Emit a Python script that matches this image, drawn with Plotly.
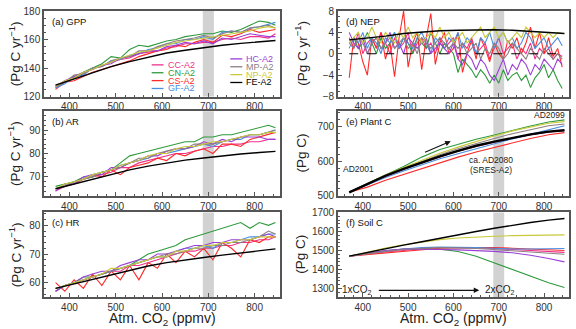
import plotly.graph_objects as go

# ---------------- data ----------------
MODELS = ["CC-A2", "CN-A2", "CS-A2", "GF-A2", "HC-A2", "MP-A2", "NP-A2", "FE-A2"]
COLORS = ["#f0308a", "#2e9a3c", "#ff2a2a", "#4a8ee0", "#9b3fd6", "#8c7f80", "#c9c93a", "#000000"]

CO2_A = [370, 390, 410, 430, 450, 470, 490, 510, 530, 550, 570, 590, 610, 630, 650,
         670, 690, 710, 730, 750, 770, 790, 810, 830, 845]
CO2_S = [370, 410, 450, 490, 530, 570, 610, 650, 690, 730, 770, 810, 845]
CO2_N = [370, 380, 390, 400, 410, 420, 430, 440, 450, 460, 470, 480, 490, 500, 510, 520,
         530, 540, 550, 560, 570, 580, 590, 600, 610, 620, 630, 640, 650, 660, 670, 680,
         690, 700, 710, 720, 730, 740, 750, 760, 770, 780, 790, 800, 810, 820, 830, 840]

# (a) GPP
GPP = {
    "CC-A2": [126, 131, 133, 136, 140, 141, 144, 146, 147, 150, 151, 152, 154, 155, 157, 157, 158, 158, 160, 161, 160, 162, 162, 161, 164],
    "CN-A2": [127, 130, 133, 137, 140, 143, 148, 147, 153, 156, 155, 157, 159, 160, 162, 163, 164, 164, 166, 165, 167, 170, 173, 172, 170],
    "CS-A2": [125, 130, 131, 134, 137, 139, 141, 143, 145, 148, 150, 152, 153, 156, 155, 158, 160, 158, 163, 162, 164, 167, 165, 166, 167],
    "GF-A2": [126, 129, 134, 135, 140, 141, 145, 146, 149, 150, 153, 154, 157, 157, 160, 160, 162, 160, 165, 166, 165, 168, 169, 171, 172],
    "HC-A2": [127, 131, 134, 137, 139, 142, 143, 147, 148, 150, 152, 152, 155, 156, 158, 157, 159, 157, 161, 160, 162, 164, 163, 162, 162],
    "MP-A2": [128, 130, 135, 136, 140, 141, 145, 147, 148, 152, 152, 155, 157, 159, 160, 161, 163, 161, 164, 166, 165, 168, 169, 170, 168],
    "NP-A2": [127, 131, 133, 137, 139, 142, 144, 147, 149, 151, 152, 154, 156, 158, 159, 160, 161, 162, 163, 164, 165, 166, 168, 169, 168],
}
GPP_FE = [128, 132.5, 137, 141, 144.5, 147.5, 150.5, 152.5, 154.5, 156, 157.3, 158.5, 159.3]

# (b) AR
AR = {
    "CC-A2": [64, 66, 68, 69, 70, 71, 72, 74, 74, 76, 77, 78, 79, 80, 80, 81, 82, 83, 83, 84, 84, 85, 85, 86, 86],
    "CN-A2": [66, 67, 68, 70, 70, 72, 73, 76, 79, 80, 81, 82, 83, 84, 85, 85, 87, 87, 88, 88, 89, 90, 91, 92, 91],
    "CS-A2": [65, 66, 67, 69, 71, 70, 73, 71, 74, 75, 76, 78, 77, 80, 79, 81, 82, 80, 84, 84, 83, 86, 87, 88, 89],
    "GF-A2": [65, 66, 68, 69, 71, 72, 73, 75, 76, 77, 78, 80, 80, 81, 82, 83, 84, 83, 85, 86, 86, 88, 88, 89, 90],
    "HC-A2": [64, 67, 67, 70, 71, 71, 74, 74, 76, 77, 79, 79, 81, 82, 82, 83, 85, 84, 86, 85, 87, 87, 87, 86, 86],
    "MP-A2": [65, 66, 68, 69, 70, 72, 73, 74, 76, 78, 78, 80, 81, 82, 82, 84, 84, 84, 85, 86, 87, 88, 88, 89, 90],
    "NP-A2": [65, 67, 68, 69, 71, 72, 73, 75, 76, 77, 79, 80, 80, 82, 83, 83, 84, 85, 85, 86, 87, 88, 88, 89, 89],
}
AR_FE = [65, 67, 69.3, 71.3, 73, 74.6, 76, 77.2, 78.1, 79, 79.8, 80.4, 80.9]

# (c) HR
HR = {
    "CC-A2": [57, 59, 60, 61, 62, 63, 64, 64, 66, 66, 67, 68, 69, 70, 71, 71, 72, 72, 73, 73, 74, 74, 75, 75, 76],
    "CN-A2": [57, 59, 60, 62, 62, 63, 64, 65, 66, 68, 70, 71, 72, 73, 75, 76, 77, 78, 79, 80, 81, 79, 81, 80, 81],
    "CS-A2": [60, 57, 61, 58, 63, 59, 64, 61, 66, 61, 67, 65, 70, 67, 71, 69, 72, 68, 74, 72, 69, 75, 74, 76, 76],
    "GF-A2": [58, 59, 60, 61, 62, 63, 64, 65, 66, 67, 68, 69, 69, 71, 72, 72, 73, 72, 74, 74, 75, 76, 76, 77, 77],
    "HC-A2": [57, 59, 60, 62, 63, 64, 64, 66, 67, 68, 68, 70, 70, 71, 72, 73, 73, 74, 74, 75, 75, 75, 76, 77, 76],
    "MP-A2": [58, 59, 60, 61, 62, 63, 64, 65, 66, 67, 68, 69, 70, 70, 71, 72, 72, 73, 73, 74, 74, 75, 76, 78, 77],
    "NP-A2": [58, 59, 60, 61, 62, 63, 65, 65, 66, 67, 68, 69, 69, 71, 71, 72, 73, 73, 74, 74, 75, 75, 76, 76, 76],
}
HR_FE = [58, 59.6, 61.2, 62.8, 64.4, 65.8, 67, 68, 68.8, 69.6, 70.4, 71.2, 71.8]

# (d) NEP
NEP = {
    "CC-A2": [3, 1, 4, 0, 2, 3, 1, 4, 2, 0, 3, 1, 2, 4, 0, 2, 3, 1, 2, 0, 3, 1, 2, 3,
              -1, 2, 1, 3, 0, 1, 2, -1, 1, 3, 0, 1, 2, -1, 1, 0, 2, -1, 1, 0, 1, -1, 0, -0.5],
    "CN-A2": [2, 3, 1, 2, 4, 2, 0, 3, 1, 2, 4, 1, 3, 2, 0, 3, 2, 1, 4, 2, 0, 2, 1, 0,
              -3.5, -1, -2, -3, -4.5, -3, -4, -5.5, -4, -5.5, -3, -5, -4, -3.5, -5, -4, -6.3, -4.5, -3.5, -2, -4.5, -3, -5, -6.5],
    "CS-A2": [-4.5, 3, 2, -1.5, -4, 3, 1, 4, -1, 2, -4.3, 3, 8, -2.5, 2, 4, -3, 3, 7.5, -2, 2, 4, 0, 1,
              4, -3.5, 0, 2.5, -1, 3, 1, -1.5, 2, 0, -1, 2.5, 1, 3, 0, 2, 5, 1, 4, 0, 3, -0.5, 1, -2.5],
    "GF-A2": [1, 3, 2, 4, 1, 3, 2, 0, 3, 2, 4, 1, 3, 2, 1, 3, 4, 2, 0, 3, 2, 1, 3, 2,
              4, 1, 3, 2, 0, 3, 2, 4, 1, 3, 4, 2, 3, 1, 2, 4, 3, 1, 2, 3, 1, 2, 3, 1.5],
    "HC-A2": [4, 2, 1, 3, 0, 2, 3, 1, 2, 4, 1, 2, 0, 3, 2, 1, 2, 3, 0, 1, 2, 1, 0, 2,
              -1, -2, 0, -1, -3, -1, -2, -4, -5, -3, -1, -4, -2, -3, -1, -2, -4, -2, -3, -1, -2, -3, -1, -2],
    "MP-A2": [2, 1, 3, 2, 0, 2, 3, 1, 2, 3, 1, 2, 3, 1, 2, 0, 3, 2, 1, 2, 3, 2, 1, 2,
              1, 2, 0, 1, 2, -1, 1, 0, 2, 1, -1, 0, 2, 1, 0, -1, 1, 0, -1, 1, 0, -1, 0, -1],
    "NP-A2": [2, 3, 4, 2, 3, 5, 3, 2, 4, 3, 2, 4, 3, 5, 3, 4, 2, 3, 4, 3, 5, 3, 4, 2,
              3, 4, 2, 3, 4, 5, 3, 4, 5, 3, 4, 2, 3, 4, 3, 5, 4, 3, 4, 3, 4, 3, 4, 3.8],
}
NEP_FE = [2.6, 2.9, 3.3, 3.8, 4.1, 4.3, 4.4, 4.5, 4.5, 4.4, 4.2, 4.0, 3.8]

# (e) Plant C
PLANT = {
    "CC-A2": [510, 533, 556, 577, 596, 613, 629, 643, 656, 667, 677, 685, 689],
    "CN-A2": [510, 536, 560, 585, 612, 634, 650, 664, 676, 690, 702, 714, 720],
    "CS-A2": [510, 525, 545, 562, 580, 596, 612, 627, 640, 654, 666, 677, 683],
    "GF-A2": [510, 532, 553, 572, 590, 607, 622, 637, 651, 665, 678, 692, 703],
    "HC-A2": [510, 534, 557, 578, 597, 614, 630, 645, 657, 668, 677, 685, 689],
    "MP-A2": [510, 535, 560, 580, 600, 619, 636, 652, 666, 680, 692, 703, 708],
    "NP-A2": [510, 536, 560, 582, 603, 623, 641, 658, 673, 688, 700, 710, 715],
}
PLANT_FE = [510, 535, 558, 578, 597, 614, 630, 645, 657, 668, 678, 686, 690]

# (f) Soil C
SOIL = {
    "CC-A2": [1470, 1482, 1492, 1500, 1510, 1515, 1516, 1514, 1510, 1504, 1498, 1493, 1490],
    "CN-A2": [1470, 1485, 1498, 1507, 1510, 1507, 1495, 1470, 1435, 1400, 1365, 1330, 1305],
    "CS-A2": [1470, 1478, 1487, 1495, 1505, 1512, 1515, 1516, 1515, 1512, 1508, 1503, 1500],
    "GF-A2": [1470, 1484, 1497, 1508, 1515, 1518, 1518, 1516, 1512, 1508, 1508, 1510, 1510],
    "HC-A2": [1470, 1487, 1500, 1508, 1508, 1505, 1503, 1500, 1495, 1488, 1475, 1458, 1440],
    "MP-A2": [1470, 1483, 1495, 1505, 1512, 1515, 1513, 1510, 1505, 1498, 1490, 1484, 1480],
    "NP-A2": [1470, 1492, 1513, 1530, 1545, 1557, 1566, 1572, 1575, 1578, 1580, 1581, 1582],
}
SOIL_FE = [1470, 1490, 1510, 1528, 1546, 1565, 1583, 1600, 1617, 1633, 1647, 1660, 1668]

BAND = [688, 712]          # ca. AD2080 shading
X_RANGE = [345, 855]
X_TICKS = [400, 500, 600, 700, 800]

FONT = "Liberation Sans, Arial, sans-serif"

# panel definitions: (suffix, grid, data, FE, yrange, tickvals, minor dtick, label, ytitle)
PANELS = [
    ("",  CO2_A, GPP,   GPP_FE,   [120, 180],   [120, 140, 160, 180], 5,  "(a) GPP",     "(Pg C yr<sup>−1</sup>)"),
    ("2", CO2_A, AR,    AR_FE,    [62, 98],     [70, 80, 90],         2,  "(b) AR",      "(Pg C yr<sup>−1</sup>)"),
    ("3", CO2_A, HR,    HR_FE,    [55, 84.5],   [60, 70, 80],         2,  "(c) HR",      "(Pg C yr<sup>−1</sup>)"),
    ("4", CO2_N, NEP,   NEP_FE,   [-8, 8],      [-8, -4, 0, 4, 8],    1,  "(d) NEP",     "(Pg C yr<sup>−1</sup>)"),
    ("5", CO2_S, PLANT, PLANT_FE, [500, 745],   [500, 600, 700],      20, "(e) Plant C", "(Pg C)"),
    ("6", CO2_S, SOIL,  SOIL_FE,  [1255, 1700], [1300, 1400, 1500, 1600, 1700], 20, "(f) Soil C", "(Pg C)"),
]

# layout geometry (paper fractions)
XDOM = {"L": [0.0, 0.4497], "R": [0.5598, 1.0]}
YDOM = [[0.701, 1.0], [0.354, 0.6495], [0.0, 0.2955]]
POS = [("L", 0), ("L", 1), ("L", 2), ("R", 0), ("R", 1), ("R", 2)]

fig = go.Figure()
shapes = []
annotations = []
layout = {}

for i, (s, grid, data, fe, yr, ytv, ymin, label, ytitle) in enumerate(PANELS):
    xa, ya = "x" + s, "y" + s
    for name, col in zip(MODELS[:-1], COLORS[:-1]):
        fig.add_trace(go.Scatter(x=grid, y=data[name], mode="lines", name=name,
                                 line=dict(color=col, width=1.1),
                                 xaxis=xa, yaxis=ya, showlegend=False))
    fig.add_trace(go.Scatter(x=CO2_S, y=fe, mode="lines", name="FE-A2",
                             line=dict(color=COLORS[-1], width=2.4 if s == "5" else 1.4),
                             xaxis=xa, yaxis=ya, showlegend=False))
    side, row = POS[i]
    key = "" if s == "" else s
    layout["xaxis" + key] = dict(
        domain=XDOM[side], anchor=ya, range=X_RANGE, tickvals=X_TICKS,
        ticks="inside", ticklen=4, tickcolor="#555", showline=True, mirror=True,
        linecolor="#555", linewidth=1.5, showgrid=False, zeroline=False,
        tickfont=dict(family=FONT, size=10, color="#333"),
        minor=dict(ticks="inside", ticklen=2, dtick=20, tickcolor="#555"))
    layout["yaxis" + key] = dict(
        domain=YDOM[row], anchor=xa, range=yr, tickvals=ytv,
        ticks="inside", ticklen=4, tickcolor="#555", showline=True, mirror=True,
        linecolor="#555", linewidth=1.5, showgrid=False, zeroline=False,
        tickfont=dict(family=FONT, size=10, color="#333"),
        minor=dict(ticks="inside", ticklen=2, dtick=ymin, tickcolor="#555"))
    # shaded band
    shapes.append(dict(type="rect", xref=xa, yref=ya + " domain", x0=BAND[0], x1=BAND[1],
                       y0=0, y1=1, fillcolor="#d2d2d2", line=dict(width=0), layer="below"))
    # panel label
    annotations.append(dict(text=label, xref=xa + " domain", yref=ya + " domain",
                            x=0.025, y=0.965, xanchor="left", yanchor="top", showarrow=False,
                            font=dict(family=FONT, size=9.5, color="#111")))
    # y title
    yc = (YDOM[row][0] + YDOM[row][1]) / 2
    annotations.append(dict(text=ytitle, xref="paper", yref="paper",
                            x=-0.056 if side == "L" else 0.4896, y=yc, textangle=-90,
                            xanchor="center", yanchor="middle", showarrow=False,
                            font=dict(family=FONT, size=13.5, color="#222")))

# x titles
for xc in (0.2248, 0.7799):
    annotations.append(dict(text="Atm. CO<sub>2</sub> (ppmv)", xref="paper", yref="paper",
                            x=xc, y=-0.077, xanchor="center", yanchor="middle", showarrow=False,
                            font=dict(family=FONT, size=14, color="#222")))

# zero dashed line in NEP
shapes.append(dict(type="line", xref="x4", yref="y4", x0=CO2_N[0], x1=CO2_N[-1], y0=0, y1=0,
                   line=dict(color="#000", width=1.2, dash="dash")))

# legend in panel (a)
LEG_COLS = [(0.456, 0.506, 0.515, [0.37, 0.278, 0.186, 0.094]),
            (0.789, 0.840, 0.848, [0.44, 0.348, 0.256, 0.164])]
for c, (lx0, lx1, tx, ys) in enumerate(LEG_COLS):
    for r in range(4):
        k = c * 4 + r
        shapes.append(dict(type="line", xref="x domain", yref="y domain", x0=lx0, x1=lx1,
                           y0=ys[r], y1=ys[r], line=dict(color=COLORS[k], width=1.3)))
        annotations.append(dict(text=MODELS[k], xref="x domain", yref="y domain", x=tx, y=ys[r],
                                xanchor="left", yanchor="middle", showarrow=False,
                                font=dict(family=FONT, size=9, color=COLORS[k])))

# annotations panels (e) and (f)
TXT = dict(family=FONT, size=8.5, color="#222")
TXT2 = dict(family=FONT, size=10, color="#222")
annotations += [
    dict(text="AD2001", xref="x5", yref="y5", x=390, y=577, showarrow=False, font=TXT),
    dict(text="AD2099", xref="x5", yref="y5", x=811, y=735, showarrow=False, font=TXT),
    dict(text="ca. AD2080", xref="x5", yref="y5", x=683, y=603, showarrow=False, font=TXT),
    dict(text="(SRES-A2)", xref="x5", yref="y5", x=683, y=575, showarrow=False, font=TXT),
    dict(text="", xref="x5", yref="y5", axref="x5", ayref="y5", x=594, y=658, ax=534, ay=624,
         showarrow=True, arrowhead=2, arrowsize=1, arrowwidth=1.1, arrowcolor="#111"),
    dict(text="1xCO<sub>2</sub>", xref="x6", yref="y6", x=387, y=1293, showarrow=False, font=TXT2),
    dict(text="2xCO<sub>2</sub>", xref="x6", yref="y6", x=702, y=1293, showarrow=False, font=TXT2),
    dict(text="", xref="x6", yref="y6", axref="x6", ayref="y6", x=657, y=1290, ax=432, ay=1290,
         showarrow=True, arrowhead=2, arrowsize=1, arrowwidth=1.1, arrowcolor="#111"),
]

fig.update_layout(
    width=576, height=329, margin=dict(l=44, r=5, t=6, b=32),
    paper_bgcolor="white", plot_bgcolor="white",
    font=dict(family=FONT), showlegend=False,
    shapes=shapes, annotations=annotations, **layout)

fig.write_html("out.html")
